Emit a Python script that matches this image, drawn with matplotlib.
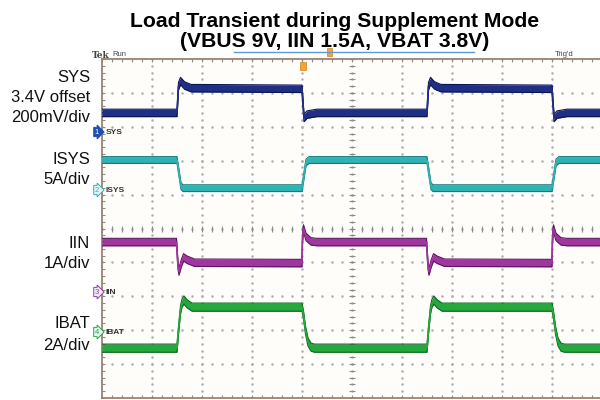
import numpy as np
import matplotlib.pyplot as plt
from matplotlib.lines import Line2D
from matplotlib.patches import Rectangle

plt.rcParams['font.family'] = ['Liberation Sans', 'DejaVu Sans']

# scope traces, (time in div, level in div from bottom of screen)
sys_t = [0, 1.5, 1.53, 1.57, 1.65, 1.78, 3.0, 4.0, 4.04, 4.1, 4.3,
         6.5, 6.53, 6.57, 6.65, 6.78, 8.0, 9.0, 9.04, 9.1, 9.3, 10]
sys_v = [8.41, 8.41, 9.2, 9.35, 9.22, 9.14, 9.13, 9.12, 8.26, 8.36, 8.41,
         8.41, 9.2, 9.35, 9.22, 9.14, 9.13, 9.12, 8.26, 8.36, 8.41, 8.41]

isys_t = [0, 1.5, 1.58, 1.62, 4.0, 4.08, 4.14, 6.5, 6.58, 6.62, 9.0, 9.08, 9.14, 10]
isys_v = [7.02, 7.02, 6.25, 6.19, 6.19, 6.95, 7.02, 7.02, 6.25, 6.19, 6.19, 6.95, 7.02, 7.02]

iin_t = [0, 1.49, 1.52, 1.54, 1.58, 1.63, 1.7, 1.85, 4.0, 4.01, 4.03, 4.08, 4.18, 4.3,
         6.49, 6.52, 6.54, 6.58, 6.63, 6.7, 6.85, 9.0, 9.01, 9.03, 9.08, 9.18, 9.3, 10]
iin_v = [4.60, 4.60, 3.9, 3.73, 3.95, 4.15, 4.08, 3.99, 3.98, 4.7, 5.0, 4.75, 4.62, 4.60,
         4.60, 3.9, 3.73, 3.95, 4.15, 4.08, 3.99, 3.98, 4.7, 5.0, 4.75, 4.62, 4.60, 4.60]

ibat_t = [0, 1.5, 1.53, 1.57, 1.6, 1.64, 1.7, 1.8, 4.0, 4.03, 4.07, 4.12, 4.18, 4.25,
          6.5, 6.53, 6.57, 6.6, 6.64, 6.7, 6.8, 9.0, 9.03, 9.07, 9.12, 9.18, 9.25, 10]
ibat_v = [1.47, 1.47, 2.0, 2.6, 2.8, 2.89, 2.78, 2.68, 2.68, 2.45, 2.0, 1.65, 1.5, 1.47,
          1.47, 2.0, 2.6, 2.8, 2.89, 2.78, 2.68, 2.68, 2.45, 2.0, 1.65, 1.5, 1.47, 1.47]

traces = [
    (sys_t, sys_v, '#1f2f85', '#0b1550', 0.11),
    (isys_t, isys_v, '#2fb3b3', '#157a7c', 0.10),
    (iin_t, iin_v, '#a0379f', '#5c1460', 0.11),
    (ibat_t, ibat_v, '#25a83c', '#0d661e', 0.12),
]

left_labels = [('SYS', 77), ('3.4V offset', 97), ('200mV/div', 117),
               ('ISYS', 160), ('5A/div', 180),
               ('IIN', 243), ('1A/div', 263),
               ('IBAT', 324), ('2A/div', 346)]

markers = [('1', 'SYS', 132, '#1f4fa8', True),
           ('2', 'ISYS', 190, '#2fb3b3', False),
           ('3', 'IIN', 292, '#a0379f', False),
           ('4', 'IBAT', 332, '#25a83c', False)]

fig = plt.figure(figsize=(6, 4), dpi=100)
fig.patch.set_facecolor('white')
ax = fig.add_axes([102 / 600, 2 / 400, 500 / 600, 339 / 400])
ax.set_xlim(0, 10)
ax.set_ylim(0, 10)
ax.set_facecolor('#fffdfa')
ax.set_xticks([])
ax.set_yticks([])
for s in ax.spines.values():
    s.set_color('#9a8272')
    s.set_linewidth(1.3)

# dotted graticule
gc = '#a9b0b8'
fine_x = np.arange(0, 10.01, 0.2)
fine_y = np.arange(0, 10.01, 0.2)
for i in range(1, 10):
    ax.plot(np.full_like(fine_y, i), fine_y, ls='none', marker='.', ms=1.6, color=gc)
    ax.plot(fine_x, np.full_like(fine_x, i), ls='none', marker='.', ms=1.6, color=gc)
# center line and edge ticks
tc = '#8c8c8c'
ax.plot(np.full_like(fine_y, 5), fine_y, ls='none', marker='_', ms=4, mew=0.8, color=tc)
ax.plot(fine_x, np.full_like(fine_x, 5), ls='none', marker='|', ms=4, mew=0.8, color=tc)
ax.plot(np.full_like(fine_y, 0), fine_y, ls='none', marker='_', ms=5, mew=0.8, color=tc)
ax.plot(fine_x, np.full_like(fine_x, 10), ls='none', marker='|', ms=5, mew=0.8, color=tc)
ax.plot(fine_x, np.full_like(fine_x, 0), ls='none', marker='|', ms=5, mew=0.8, color=tc)

for t, v, c, dc, h in traces:
    v = np.array(v)
    ax.fill_between(t, v - h, v + h, color=c, lw=0, zorder=3)
    ax.plot(t, v + h, color=dc, lw=0.8, zorder=4)
    ax.plot(t, v - h, color=dc, lw=0.8, zorder=4)
    ax.plot(t, v, color=c, lw=1.2, zorder=4)

# titles
fig.text(335 / 600, 1 - 27 / 400, 'Load Transient during Supplement Mode',
         ha='center', va='baseline', fontsize=15.2, fontweight='bold')
fig.text(335 / 600, 1 - 47 / 400, '(VBUS 9V, IIN 1.5A, VBAT 3.8V)',
         ha='center', va='baseline', fontsize=15.2, fontweight='bold')

for txt, y in left_labels:
    fig.text(90 / 600, 1 - y / 400, txt, ha='right', va='center', fontsize=12, color='#111111')

for num, name, y, c, filled in markers:
    fig.text(97 / 600, 1 - y / 400, num, ha='center', va='center', fontsize=5.5,
             color='white' if filled else c,
             bbox=dict(boxstyle='rarrow,pad=0.15', fc=c if filled else '#e8f0f8', ec=c, lw=0.7))
    fig.text(106 / 600, 1 - y / 400, name, ha='left', va='center', fontsize=6,
             fontweight='bold', color='#333333')

# scope header
fig.text(92 / 600, 1 - 55 / 400, 'Tek', ha='left', va='center', fontsize=6.5,
         fontweight='bold', color='#444444', family='DejaVu Serif')
fig.text(112 / 600, 1 - 55 / 400, 'Run', ha='left', va='center', fontsize=5.5, color='#444444')
fig.text(555 / 600, 1 - 55 / 400, "Trig'd", ha='left', va='center', fontsize=5.5, color='#444444')
fig.add_artist(Line2D([234 / 600, 474 / 600], [1 - 52 / 400, 1 - 52 / 400],
                      color='#5b9bd5', lw=1))
fig.add_artist(Rectangle((327 / 600, 1 - 56 / 400), 5 / 600, 8 / 400,
                         fc='#f3a43a', ec='#d08020', lw=0.5))
fig.add_artist(Rectangle((300 / 600, 1 - 70 / 400), 6 / 600, 8 / 400,
                         fc='#f3a43a', ec='#d08020', lw=0.5))

fig.savefig('out.png', dpi=100)
